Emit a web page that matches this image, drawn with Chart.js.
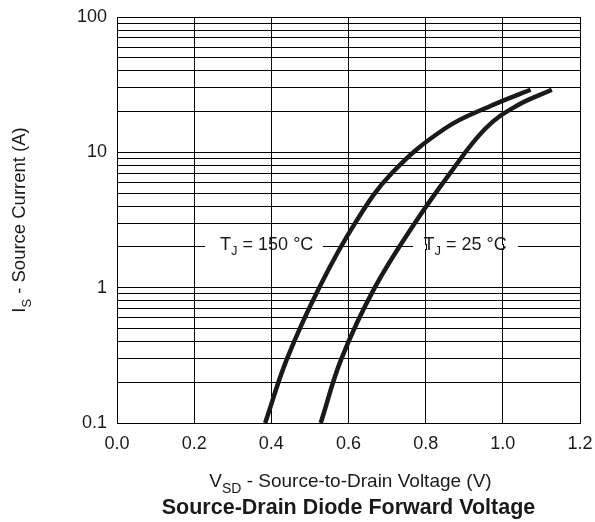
<!DOCTYPE html>
<html>
<head>
<meta charset="utf-8">
<script src="https://cdn.jsdelivr.net/npm/chart.js@4/dist/chart.umd.min.js"></script>
<style>
  html, body { margin: 0; padding: 0; background: #fff; }
  #wrap { width: 595px; height: 522px; }
</style>
</head>
<body>
<div id="wrap"><canvas id="chart"></canvas></div>
<script>
// Source-drain diode forward voltage
const vsd150 = [0.384, 0.441, 0.524, 0.617, 0.712, 0.850, 0.968, 1.072];
const is150  = [0.1,   0.3,   1,     3,     7,     15,    22,    29];
const vsd25  = [0.528, 0.582, 0.668, 0.772, 0.863, 0.955, 1.035, 1.127];
const is25   = [0.1,   0.3,   1,     3,     7,     15,    22,    29];

const xTicks = [0, 0.2, 0.4, 0.6, 0.8, 1.0, 1.2];
const yDecades = [0.1, 1, 10, 100];

// curve labels: text parts, anchor (data coords), gap cut out of the gridline
const labelParts = [
  [['T', false], ['J', true], [' = 150 °C', false]],
  [['T', false], ['J', true], [' = 25 °C', false]]
];
const labelX = [0.388, 0.902];
const labelY = [2, 2];
const labelGap = [[0.228, 0.534], [0.767, 1.039]];

const FONT = '"Liberation Sans", Arial, Helvetica, sans-serif';
const INK = '#1a1a1a';

function toPoints(xs, ys) {
  return xs.map((x, i) => ({ x: x, y: ys[i] }));
}

function drawRich(ctx, parts, x, y, size, weight) {
  const subSize = Math.round(size * 0.72);
  let w = 0;
  parts.forEach(p => {
    ctx.font = (weight || '') + ' ' + (p[1] ? subSize : size) + 'px ' + FONT;
    w += ctx.measureText(p[0]).width;
  });
  let cx = x - w / 2;
  parts.forEach(p => {
    ctx.font = (weight || '') + ' ' + (p[1] ? subSize : size) + 'px ' + FONT;
    ctx.fillText(p[0], cx, p[1] ? y + size * 0.3 : y);
    cx += ctx.measureText(p[0]).width;
  });
}

const textPlugin = {
  id: 'textPlugin',
  beforeDatasetsDraw(chart) {
    const ctx = chart.ctx;
    const xs = chart.scales.x, ys = chart.scales.y;
    ctx.save();
    ctx.textBaseline = 'alphabetic';
    labelParts.forEach((parts, i) => {
      const py = ys.getPixelForValue(labelY[i]);
      const g0 = xs.getPixelForValue(labelGap[i][0]);
      const g1 = xs.getPixelForValue(labelGap[i][1]);
      ctx.fillStyle = '#fff';
      ctx.fillRect(g0, py - 2, g1 - g0, 4);
      // keep vertical gridlines running through the label
      ctx.strokeStyle = '#000';
      ctx.lineWidth = 1;
      xTicks.forEach(t => {
        const px = xs.getPixelForValue(t);
        if (px > g0 && px < g1) {
          ctx.beginPath();
          ctx.moveTo(Math.round(px) + 0.5, py - 3);
          ctx.lineTo(Math.round(px) + 0.5, py + 3);
          ctx.stroke();
        }
      });
      ctx.fillStyle = INK;
      drawRich(ctx, parts, xs.getPixelForValue(labelX[i]), py + 3, 18);
    });
    ctx.restore();
  },
  afterDraw(chart) {
    const ctx = chart.ctx;
    const area = chart.chartArea;
    const cx = (area.left + area.right) / 2;
    ctx.save();
    ctx.fillStyle = INK;
    ctx.textBaseline = 'alphabetic';
    drawRich(ctx, [['V', false], ['SD', true], [' - Source-to-Drain Voltage (V)', false]], cx + 2, 487, 19);
    drawRich(ctx, [['Source-Drain Diode Forward Voltage', false]], cx, 514, 21.5, 'bold');
    ctx.translate(25, (area.top + area.bottom) / 2);
    ctx.rotate(-Math.PI / 2);
    drawRich(ctx, [['I', false], ['S', true], [' - Source Current (A)', false]], 0, 0, 18.5);
    ctx.restore();
  }
};

const ctx = document.getElementById('chart');
new Chart(ctx, {
  type: 'line',
  data: {
    datasets: [
      {
        label: 'TJ = 150 °C',
        data: toPoints(vsd150, is150),
        borderColor: INK,
        borderWidth: 4.5,
        pointRadius: 0,
        tension: 0.4,
        fill: false
      },
      {
        label: 'TJ = 25 °C',
        data: toPoints(vsd25, is25),
        borderColor: INK,
        borderWidth: 4.5,
        pointRadius: 0,
        tension: 0.4,
        fill: false
      }
    ]
  },
  options: {
    responsive: true,
    maintainAspectRatio: false,
    animation: false,
    layout: { padding: { left: 0, right: 15, top: 17, bottom: 0 } },
    plugins: {
      legend: { display: false },
      tooltip: { enabled: false }
    },
    scales: {
      x: {
        type: 'linear',
        min: 0,
        max: 1.2,
        afterBuildTicks: scale => { scale.ticks = xTicks.map(v => ({ value: v })); },
        afterFit: scale => {
          scale.height = 99;
          scale.paddingLeft = 0;
          scale.paddingRight = 0;
        },
        grid: { color: '#000', lineWidth: 1, drawTicks: false },
        border: { color: '#000', width: 1 },
        ticks: {
          padding: 10,
          color: INK,
          font: { family: FONT, size: 18 },
          callback: v => Number(v).toFixed(1)
        }
      },
      y: {
        type: 'logarithmic',
        min: 0.1,
        max: 100,
        afterBuildTicks: scale => {
          const t = [];
          yDecades.slice(0, 3).forEach(d => {
            for (let m = 1; m < 10; m++) t.push({ value: Number((m * d).toPrecision(3)) });
          });
          t.push({ value: 100 });
          scale.ticks = t;
        },
        afterFit: scale => {
          scale.width = 117;
          scale.paddingTop = 0;
          scale.paddingBottom = 0;
        },
        grid: { color: '#000', lineWidth: 1, drawTicks: false },
        border: { color: '#000', width: 1 },
        ticks: {
          padding: 10,
          autoSkip: false,
          color: INK,
          font: { family: FONT, size: 18 },
          callback: v => (yDecades.includes(v) ? String(v) : '')
        }
      }
    }
  },
  plugins: [textPlugin]
});
</script>
</body>
</html>
